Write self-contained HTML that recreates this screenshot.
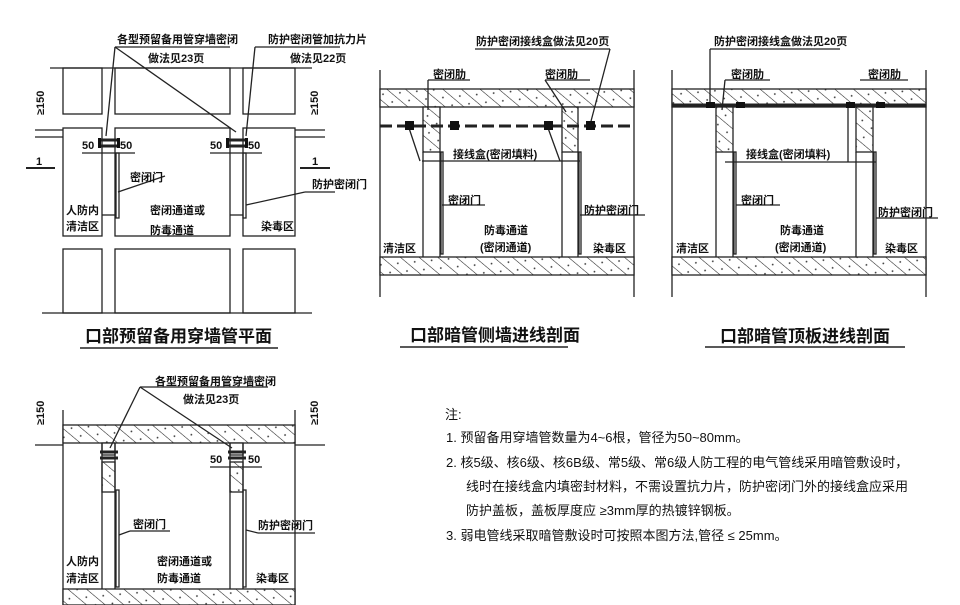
<!DOCTYPE html>
<html><head><meta charset="utf-8"><style>
html,body{margin:0;padding:0;background:#fff;}
svg{display:block;}
text{font-family:"Liberation Sans","Noto Sans CJK SC",sans-serif;fill:#111;}
.l{font-size:11px;font-weight:bold;}
.t{font-size:17px;font-weight:bold;}
.n{font-size:13px;}
</style></head><body>
<svg width="960" height="605" viewBox="0 0 960 605" xmlns="http://www.w3.org/2000/svg">
<defs>
<pattern id="h" patternUnits="userSpaceOnUse" width="12" height="12" patternTransform="rotate(-50)">
<rect width="12" height="12" fill="#fff"/><line x1="0" y1="0" x2="0" y2="12" stroke="#222" stroke-width="1.1"/><circle cx="6" cy="6" r="0.9" fill="#333"/>
</pattern>
</defs>
<g stroke="#222" stroke-width="1.3" fill="none">
<!-- PLAN 1 -->
<line x1="50" y1="68" x2="312" y2="68"/>
<line x1="42" y1="313" x2="312" y2="313"/>
<rect x="63" y="68" width="39" height="46"/><rect x="115" y="68" width="115" height="46"/><rect x="243" y="68" width="52" height="46"/>
<rect x="63" y="128" width="39" height="108"/><rect x="115" y="128" width="115" height="108"/><rect x="243" y="128" width="52" height="108"/>
<rect x="63" y="249" width="39" height="64"/><rect x="115" y="249" width="115" height="64"/><rect x="243" y="249" width="52" height="64"/>
<line x1="35" y1="130" x2="63" y2="130"/><line x1="35" y1="137" x2="63" y2="137"/>
<line x1="295" y1="130" x2="325" y2="130"/><line x1="295" y1="137" x2="325" y2="137"/>
<rect x="116" y="153" width="3" height="65"/><rect x="243" y="153" width="3" height="65"/>
<line x1="102" y1="215" x2="115" y2="215"/><line x1="230" y1="215" x2="243" y2="215"/>
<line x1="82" y1="153" x2="135" y2="153"/><line x1="210" y1="153" x2="262" y2="153"/>
<line x1="100" y1="140" x2="118" y2="140" stroke-width="3"/><line x1="100" y1="146" x2="118" y2="146" stroke-width="3"/>
<line x1="228" y1="140" x2="246" y2="140" stroke-width="3"/><line x1="228" y1="146" x2="246" y2="146" stroke-width="3"/>
<line x1="26" y1="168" x2="55" y2="168" stroke-width="2"/><line x1="300" y1="168" x2="330" y2="168" stroke-width="2"/>
<line x1="115" y1="47" x2="230" y2="47"/><line x1="115" y1="47" x2="106" y2="136"/><line x1="115" y1="47" x2="236" y2="132"/>
<line x1="255" y1="47" x2="340" y2="47"/><line x1="255" y1="47" x2="246" y2="136"/>
<line x1="118" y1="192" x2="165" y2="176"/><line x1="246" y1="205" x2="305" y2="192"/><line x1="305" y1="192" x2="335" y2="192"/>
<!-- SECTION 1 -->
<line x1="380" y1="70" x2="380" y2="297"/><line x1="634" y1="70" x2="634" y2="297"/>
<rect x="380" y="89" width="254" height="18" fill="url(#h)"/>
<rect x="380" y="257" width="254" height="18" fill="url(#h)"/>
<rect x="423" y="107" width="17" height="45" fill="url(#h)"/>
<rect x="562" y="107" width="16" height="45" fill="url(#h)"/>
<line x1="423" y1="152" x2="423" y2="257"/><line x1="440" y1="152" x2="440" y2="257"/>
<line x1="562" y1="152" x2="562" y2="257"/><line x1="578" y1="152" x2="578" y2="257"/>
<rect x="441" y="152" width="2" height="102"/><rect x="579" y="152" width="2" height="102"/>
<line x1="380" y1="126" x2="634" y2="126" stroke-width="3" stroke-dasharray="12,5"/>
<line x1="422" y1="161" x2="580" y2="161"/>
<line x1="428" y1="80" x2="470" y2="80"/><line x1="428" y1="80" x2="428" y2="110"/>
<line x1="545" y1="80" x2="590" y2="80"/><line x1="545" y1="80" x2="566" y2="112"/>
<line x1="475" y1="49" x2="610" y2="49"/><line x1="610" y1="49" x2="590" y2="125"/>
<line x1="409" y1="128" x2="420" y2="161"/><line x1="548" y1="128" x2="560" y2="161"/>
<line x1="442" y1="205" x2="485" y2="205"/><line x1="580" y1="215" x2="645" y2="215"/>
<!-- SECTION 2 -->
<line x1="672" y1="70" x2="672" y2="297"/><line x1="926" y1="70" x2="926" y2="297"/>
<rect x="672" y="89" width="254" height="18" fill="url(#h)"/>
<line x1="672" y1="105" x2="926" y2="105" stroke-width="3"/>
<rect x="672" y="257" width="254" height="18" fill="url(#h)"/>
<rect x="716" y="107" width="17" height="45" fill="url(#h)"/>
<rect x="856" y="107" width="17" height="45" fill="url(#h)"/>
<line x1="716" y1="152" x2="716" y2="257"/><line x1="733" y1="152" x2="733" y2="257"/>
<line x1="856" y1="152" x2="856" y2="257"/><line x1="873" y1="152" x2="873" y2="257"/>
<rect x="734" y="152" width="2" height="102"/><rect x="874" y="152" width="2" height="102"/>
<line x1="848" y1="107" x2="848" y2="162"/>
<line x1="725" y1="162" x2="876" y2="162"/>
<line x1="710" y1="49" x2="840" y2="49"/><line x1="710" y1="49" x2="710" y2="105"/>
<line x1="725" y1="80" x2="770" y2="80"/><line x1="725" y1="80" x2="722" y2="110"/>
<line x1="860" y1="80" x2="908" y2="80"/>
<line x1="736" y1="205" x2="780" y2="205"/><line x1="876" y1="218" x2="938" y2="218"/>
<!-- PLAN 2 -->
<line x1="63" y1="410" x2="63" y2="605"/><line x1="295" y1="410" x2="295" y2="605"/>
<rect x="63" y="425" width="232" height="18" fill="url(#h)"/>
<rect x="63" y="589" width="232" height="16" fill="url(#h)"/>
<rect x="102" y="443" width="13" height="12" fill="#fff"/><rect x="230" y="443" width="13" height="12" fill="#fff"/>
<rect x="102" y="462" width="13" height="30" fill="url(#h)"/><rect x="230" y="462" width="13" height="30" fill="url(#h)"/>
<line x1="102" y1="443" x2="102" y2="589"/><line x1="115" y1="443" x2="115" y2="589"/>
<line x1="230" y1="443" x2="230" y2="589"/><line x1="243" y1="443" x2="243" y2="589"/>
<line x1="35" y1="445" x2="63" y2="445"/><line x1="295" y1="445" x2="325" y2="445"/>
<rect x="116" y="490" width="3" height="97"/><rect x="243" y="490" width="3" height="97"/>
<line x1="100" y1="452" x2="118" y2="452" stroke-width="3"/><line x1="100" y1="458" x2="118" y2="458" stroke-width="3"/>
<line x1="228" y1="452" x2="246" y2="452" stroke-width="3"/><line x1="228" y1="458" x2="246" y2="458" stroke-width="3"/>
<line x1="210" y1="467" x2="262" y2="467"/>
<line x1="140" y1="387" x2="268" y2="387"/><line x1="140" y1="387" x2="110" y2="448"/><line x1="140" y1="387" x2="232" y2="448"/>
<line x1="119" y1="535" x2="130" y2="531"/><line x1="130" y1="531" x2="170" y2="531"/>
<line x1="246" y1="530" x2="258" y2="533"/><line x1="258" y1="533" x2="315" y2="533"/>
<!-- title underlines -->
<line x1="80" y1="348" x2="278" y2="348" stroke-width="1.5"/>
<line x1="400" y1="347" x2="568" y2="347" stroke-width="1.5"/>
<line x1="705" y1="347" x2="905" y2="347" stroke-width="1.5"/>
</g>
<!-- junction boxes -->
<g fill="#111">
<rect x="405" y="121" width="9" height="9"/><rect x="450" y="121" width="9" height="9"/>
<rect x="544" y="121" width="9" height="9"/><rect x="586" y="121" width="9" height="9"/>
<rect x="706" y="102" width="9" height="6"/><rect x="736" y="102" width="9" height="6"/>
<rect x="846" y="102" width="9" height="6"/><rect x="876" y="102" width="9" height="6"/>
<rect x="98" y="138" width="3" height="10"/><rect x="117" y="138" width="3" height="10"/>
<rect x="226" y="138" width="3" height="10"/><rect x="245" y="138" width="3" height="10"/>
</g>
<!-- labels -->
<text class="l" x="117" y="43">各型预留备用管穿墙密闭</text>
<text class="l" x="148" y="62">做法见23页</text>
<text class="l" x="268" y="43">防护密闭管加抗力片</text>
<text class="l" x="290" y="62">做法见22页</text>
<text class="l" x="82" y="149">50</text><text class="l" x="120" y="149">50</text>
<text class="l" x="210" y="149">50</text><text class="l" x="248" y="149">50</text>
<text class="l" x="36" y="165" font-size="13">1</text><text class="l" x="312" y="165" font-size="13">1</text>
<text class="l" transform="translate(44,115) rotate(-90)">≥150</text>
<text class="l" transform="translate(318,115) rotate(-90)">≥150</text>
<text class="l" x="130" y="181">密闭门</text>
<text class="l" x="312" y="188">防护密闭门</text>
<text class="l" x="66" y="214">人防内</text><text class="l" x="66" y="230">清洁区</text>
<text class="l" x="150" y="214">密闭通道或</text><text class="l" x="150" y="234">防毒通道</text>
<text class="l" x="261" y="230">染毒区</text>
<text class="t" x="85" y="342">口部预留备用穿墙管平面</text>

<text class="l" x="476" y="45">防护密闭接线盒做法见20页</text>
<text class="l" x="433" y="78">密闭肋</text><text class="l" x="545" y="78">密闭肋</text>
<text class="l" x="453" y="158">接线盒(密闭填料)</text>
<text class="l" x="448" y="204">密闭门</text>
<text class="l" x="584" y="214">防护密闭门</text>
<text class="l" x="484" y="234">防毒通道</text><text class="l" x="480" y="251">(密闭通道)</text>
<text class="l" x="383" y="252">清洁区</text><text class="l" x="593" y="252">染毒区</text>
<text class="t" x="410" y="341">口部暗管侧墙进线剖面</text>

<text class="l" x="714" y="45">防护密闭接线盒做法见20页</text>
<text class="l" x="731" y="78">密闭肋</text><text class="l" x="868" y="78">密闭肋</text>
<text class="l" x="746" y="158">接线盒(密闭填料)</text>
<text class="l" x="741" y="204">密闭门</text>
<text class="l" x="878" y="216">防护密闭门</text>
<text class="l" x="780" y="234">防毒通道</text><text class="l" x="775" y="251">(密闭通道)</text>
<text class="l" x="676" y="252">清洁区</text><text class="l" x="885" y="252">染毒区</text>
<text class="t" x="720" y="342">口部暗管顶板进线剖面</text>

<text class="l" x="155" y="385">各型预留备用管穿墙密闭</text>
<text class="l" x="183" y="403">做法见23页</text>
<text class="l" transform="translate(44,425) rotate(-90)">≥150</text>
<text class="l" transform="translate(318,425) rotate(-90)">≥150</text>
<text class="l" x="210" y="463">50</text><text class="l" x="248" y="463">50</text>
<text class="l" x="133" y="528">密闭门</text>
<text class="l" x="258" y="529">防护密闭门</text>
<text class="l" x="66" y="565">人防内</text><text class="l" x="66" y="582">清洁区</text>
<text class="l" x="157" y="565">密闭通道或</text><text class="l" x="157" y="582">防毒通道</text>
<text class="l" x="256" y="582">染毒区</text>

<text class="n" x="445" y="419">注:</text>
<text class="n" x="446" y="442">1.  预留备用穿墙管数量为4~6根，管径为50~80mm。</text>
<text class="n" x="446" y="467">2.  核5级、核6级、核6B级、常5级、常6级人防工程的电气管线采用暗管敷设时，</text>
<text class="n" x="466" y="491">线时在接线盒内填密封材料，不需设置抗力片，防护密闭门外的接线盒应采用</text>
<text class="n" x="466" y="515">防护盖板，盖板厚度应 ≥3mm厚的热镀锌钢板。</text>
<text class="n" x="446" y="540">3.  弱电管线采取暗管敷设时可按照本图方法,管径 ≤ 25mm。</text>
</svg>
</body></html>
